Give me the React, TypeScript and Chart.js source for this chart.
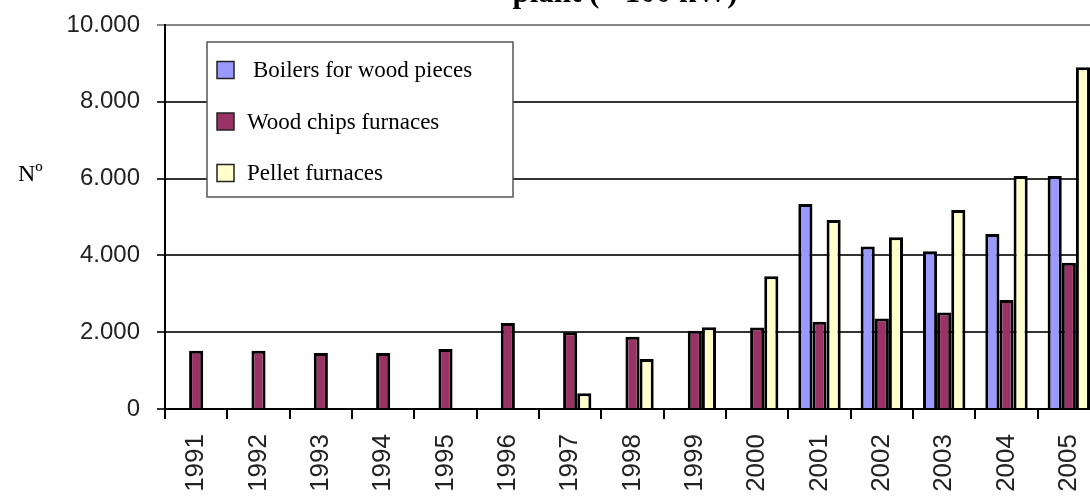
import React, { useEffect, useRef } from "react";
import { Chart, registerables } from "chart.js";

Chart.register(...registerables);

const years = ["1991", "1992", "1993", "1994", "1995", "1996", "1997", "1998", "1999", "2000", "2001", "2002", "2003", "2004", "2005"];
const boilersWoodPieces = [null, null, null, null, null, null, null, null, null, null, 5340, 4230, 4110, 4560, 6070];
const woodChipsFurnaces = [1520, 1520, 1460, 1460, 1560, 2240, 2000, 1880, 2040, 2120, 2270, 2360, 2510, 2840, 3810];
const pelletFurnaces = [null, null, null, null, null, null, 410, 1300, 2130, 3460, 4920, 4470, 5180, 6070, 8900];
const seriesLabels = ["Boilers for wood pieces", "Wood chips furnaces", "Pellet furnaces"];
const seriesColors = ["#9999FF", "#993366", "#FFFFCC"];
const yMin = 0;
const yMax = 10000;
const yStep = 2000;
const titleText = "plant (< 100 kW)";
const yAxisLabel = "Nº";

const fmt = (v: number) => String(v).replace(/\B(?=(\d{3})+(?!\d))/g, ".");

const overlayPlugin = {
  id: "overlay",
  afterDraw(chart: any) {
    const ctx = chart.ctx as CanvasRenderingContext2D;
    const a = chart.chartArea;
    ctx.save();
    ctx.fillStyle = "#000";
    ctx.font = 'bold 31px "Liberation Serif"';
    ctx.textAlign = "center";
    ctx.textBaseline = "alphabetic";
    ctx.fillText(titleText, 625, 2);
    ctx.font = '24px "Liberation Serif"';
    ctx.textAlign = "left";
    ctx.fillText(yAxisLabel, 18, 181);
    const bx = a.left + 42;
    const by = 42;
    const bw = 306;
    const bh = 155;
    ctx.fillStyle = "#fff";
    ctx.fillRect(bx, by, bw, bh);
    ctx.strokeStyle = "#555";
    ctx.lineWidth = 1.5;
    ctx.strokeRect(bx, by, bw, bh);
    chart.data.datasets.forEach((ds: any, i: number) => {
      const cy = 70 + i * 51.5;
      ctx.fillStyle = ds.backgroundColor;
      ctx.fillRect(bx + 10, cy - 8.5, 17, 17);
      ctx.strokeStyle = "#222";
      ctx.lineWidth = 1.5;
      ctx.strokeRect(bx + 10, cy - 8.5, 17, 17);
      ctx.fillStyle = "#000";
      ctx.font = '23px "Liberation Serif"';
      ctx.textBaseline = "middle";
      ctx.textAlign = "left";
      ctx.fillText(ds.label, bx + (i === 0 ? 46 : 40), cy + 1);
    });
    ctx.restore();
  },
};

export default function App() {
  const ref = useRef<HTMLCanvasElement>(null);
  useEffect(() => {
    document.body.style.margin = "0";
    document.body.style.overflow = "hidden";
    const datasets = [boilersWoodPieces, woodChipsFurnaces, pelletFurnaces].map((d, i) => ({
      label: seriesLabels[i],
      data: d,
      backgroundColor: seriesColors[i],
      borderColor: "#000",
      borderWidth: 3,
      categoryPercentage: 0.68,
      barPercentage: 1,
    }));
    const chart = new Chart(ref.current as HTMLCanvasElement, {
      type: "bar",
      data: { labels: years, datasets: datasets as any },
      options: {
        animation: false,
        responsive: false,
        devicePixelRatio: 1,
        layout: { padding: { top: 25, right: 0, bottom: 0, left: 0 } },
        plugins: {
          legend: { display: false },
          title: { display: false },
          tooltip: { enabled: false },
        },
        scales: {
          x: {
            grid: {
              display: true,
              drawOnChartArea: false,
              drawTicks: true,
              tickLength: 10,
              color: "#000",
              lineWidth: 2,
              offset: true,
            },
            border: { display: true, color: "#000", width: 2 },
            ticks: {
              minRotation: 90,
              maxRotation: 90,
              autoSkip: false,
              color: "#222",
              padding: 15,
              font: { family: '"Liberation Sans"', size: 26 },
            },
            afterFit: (s: any) => {
              s.height = 91;
              s.paddingLeft = 0;
              s.paddingRight = 0;
            },
          },
          y: {
            min: yMin,
            max: yMax,
            ticks: {
              stepSize: yStep,
              color: "#222",
              padding: 17,
              font: { family: '"Liberation Sans"', size: 24 },
              callback: (v: any) => fmt(Number(v)),
            },
            grid: {
              color: (c: any) => (c.tick && c.tick.value === yMax ? "#888" : "#333"),
              lineWidth: 2,
              tickLength: 8,
            },
            border: { display: true, color: "#000", width: 2 },
            afterFit: (s: any) => {
              s.width = 165;
              s.paddingTop = 0;
              s.paddingBottom = 0;
            },
          },
        },
      },
      plugins: [overlayPlugin],
    });
    return () => chart.destroy();
  }, []);
  return (
    <div style={{ position: "fixed", left: 0, top: 0, width: 1090, height: 500, overflow: "hidden", background: "#fff" }}>
      <canvas ref={ref} width={1100} height={500} style={{ position: "absolute", left: 0, top: 0, width: 1100, height: 500 }} />
    </div>
  );
}
